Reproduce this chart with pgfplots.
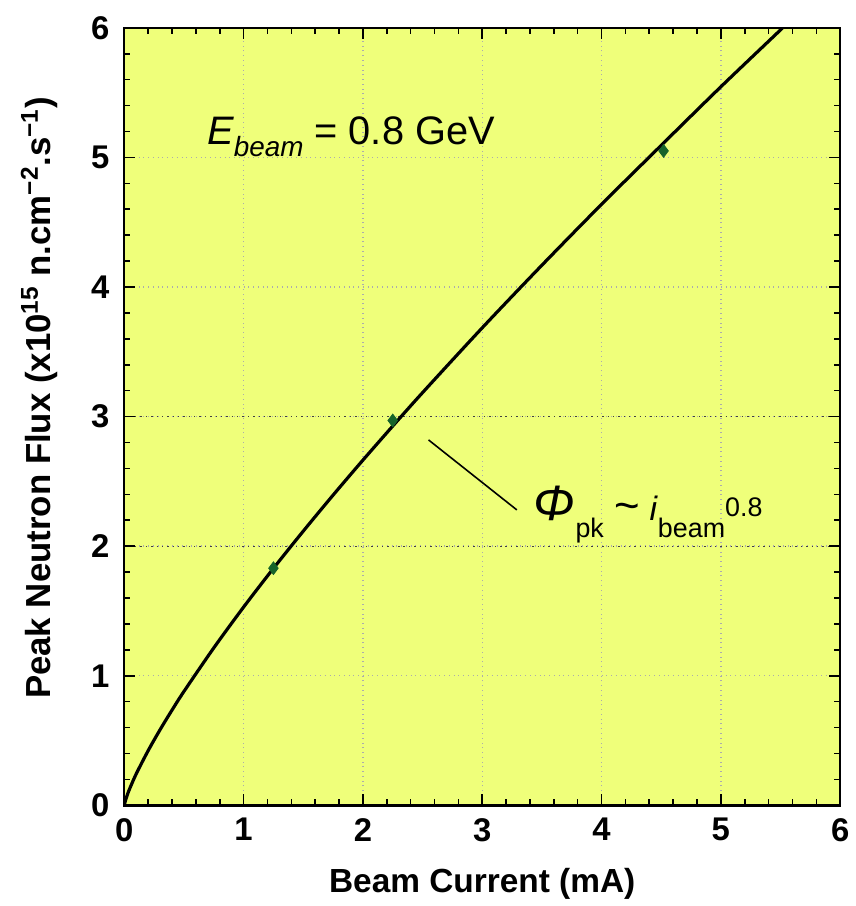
\documentclass[border=0pt]{standalone}
\usepackage{pgfplots}
\pgfplotsset{compat=1.18}
\usepackage{fontspec}
\setmainfont{Liberation Sans}

\definecolor{plotbg}{RGB}{239,255,122}
\definecolor{ptgreen}{RGB}{22,100,42}

\begin{document}
\begin{tikzpicture}
\begin{axis}[
    width=360pt, height=391pt, scale only axis,
    xmin=0, xmax=6, ymin=0, ymax=6,
    xtick={0,1,...,6}, ytick={0,1,...,6},
    minor tick num=4,
    tick align=inside,
    major tick length=5.5pt, minor tick length=3pt,
    every tick/.style={black, line width=0.8pt},
    axis line style={black, line width=1.2pt},
    axis background/.style={fill=plotbg},
    grid=major,
    major grid style={gray!65, dotted, line width=0.7pt},
    extra y ticks={2,3},
    extra y tick labels={},
    extra y tick style={major grid style={black!75, dotted, line width=0.6pt}},
    /pgf/number format/assume math mode=true,
    tick label style={font=\bfseries\fontsize{16.5}{18}\selectfont},
    xticklabel style={yshift=-3pt},
    yticklabel style={xshift=-4pt},
    xlabel={Beam Current (mA)},
    ylabel={Peak Neutron Flux (x10\textsuperscript{15} n.cm\textsuperscript{−2}.s\textsuperscript{−1})},
    xlabel style={font=\bfseries\fontsize{16.8}{19}\selectfont,
        at={(axis description cs:0.5,-0.112)}, anchor=base},
    ylabel style={font=\bfseries\fontsize{17.5}{20}\selectfont,
        at={(axis description cs:-0.119,0.524)}, anchor=center},
]

% fitted flux curve, Phi ~ i^0.8
\addplot[black, line width=1.6pt, smooth] coordinates {
    (0,0) (0.01,0.038) (0.03,0.093) (0.05,0.139) (0.1,0.243) (0.2,0.422)
    (0.3,0.584) (0.4,0.735) (0.5,0.879) (0.75,1.215) (1,1.530) (1.25,1.829)
    (1.5,2.116) (1.75,2.394) (2,2.664) (2.25,2.927) (2.5,3.185) (3,3.685)
    (3.5,4.168) (4,4.638) (4.5,5.093) (5,5.545) (5.5,5.984) (5.515,6.0)
};

% calculated points
\addplot[only marks, mark=diamond*, mark size=3.2pt, color=ptgreen] coordinates {
    (1.25,1.83) (2.25,2.97) (4.52,5.05)
};

\node[anchor=base west, inner sep=0pt, font=\fontsize{20}{24}\selectfont]
    at (axis cs:0.69,5.10)
    {\textit{E}\raisebox{-0.3em}{\fontsize{14}{16}\selectfont\textit{beam}} = 0.8 GeV};

\draw[black, line width=0.8pt] (axis cs:2.55,2.82) -- (axis cs:3.29,2.28);

\node[anchor=base west, inner sep=0pt, font=\fontsize{17}{20}\selectfont]
    at (axis cs:3.43,2.20)
    {{\fontsize{25}{28}\selectfont\textit{Φ}}\raisebox{-0.5em}{\fontsize{13.5}{15}\selectfont pk}\hspace{0.3em}{\fontsize{22}{24}\selectfont\textasciitilde}\hspace{0.3em}\textit{i}\raisebox{-0.5em}{\fontsize{13.5}{15}\selectfont beam}\raisebox{0.12em}{\fontsize{13.5}{15}\selectfont 0.8}};

\end{axis}
% page frame with the reference's margins round the plot area
\path ([shift={(-62.5pt,-48pt)}]current axis.south west)
    rectangle ([shift={(7pt,14pt)}]current axis.north east);
\end{tikzpicture}
\end{document}
